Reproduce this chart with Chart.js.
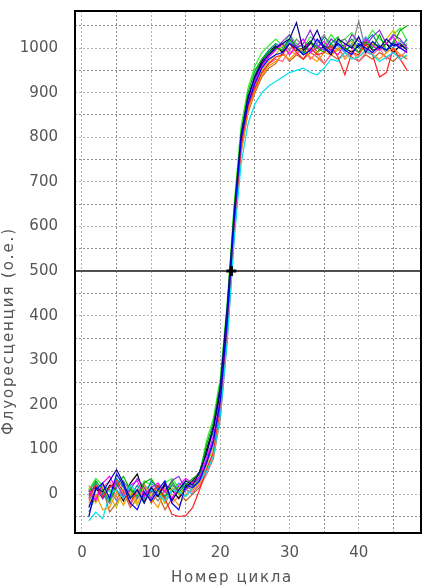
<!DOCTYPE html>
<html><head><meta charset="utf-8">
<script src="https://cdn.jsdelivr.net/npm/chart.js@4.4.1/dist/chart.umd.min.js"></script>
<style>html,body{margin:0;padding:0;background:#fff;}#wrap{width:429px;height:588px;}</style>
</head><body><div id="wrap"><canvas id="c" width="429" height="588"></canvas></div>
<script>
const cycles = [1,2,3,4,5,6,7,8,9,10,11,12,13,14,15,16,17,18,19,20,21,22,23,24,25,26,27,28,29,30,31,32,33,34,35,36,37,38,39,40,41,42,43,44,45,46,47];
const xTitle = 'Номер цикла';
const yTitle = 'Флуоресценция (о.е.)';
const xGrid = [0,5,10,15,20,25,30,35,40,45];
const xLabels = [0,10,20,30,40];
const yGrid = [-50,0,50,100,150,200,250,300,350,400,450,500,550,600,650,700,750,800,850,900,950,1000,1050];
const yLabels = [0,100,200,300,400,500,600,700,800,900,1000];
const threshold = 500;
const ctCycle = 21.6;

const red     = [-10,20,-5,15,30,5,-20,10,-15,5,20,-10,-45,-50,-48,-30,10, 55,95,185,370,600,780,870,910,945,965, 980,985,1010,990,975,1000,985,990,1005,980,940,990,985,1010,985,935,945,1000,975,950];
const green   = [5,30,10,-15,20,40,10,-5,25,35,10,-10,30,5,20,35,45, 110,160,250,420,640,810,900,950,975,990, 1000,995,1020,1000,985,1015,1000,990,1010,1025,995,1005,990,1015,1000,1030,995,1010,1040,1050];
const blue    = [-30,10,25,-10,45,20,-20,-35,5,-15,10,30,-20,-35,20,15,30, 70,120,210,390,615,795,875,920,955,975, 985,990,1010,1000,985,995,1020,1000,990,1010,995,985,1010,1000,990,1005,995,1010,1000,990];
const navy    = [-50,15,5,30,55,25,-10,10,-20,15,-5,25,-15,10,30,20,50, 90,150,240,420,630,805,890,935,965,985, 1000,1010,1020,1057,995,1010,1040,1000,985,1020,1010,1000,1025,990,1015,1000,1020,1005,1010,995];
const cyan    = [-60,-40,-55,0,10,-10,20,5,-20,10,0,-15,10,5,-5,15,30, 50,85,175,345,570,740,830,875,900,915, 925,935,945,950,955,945,940,955,975,970,990,975,980,995,985,970,980,990,975,985];
const magenta = [10,-15,25,40,10,-10,20,30,-5,15,25,5,-10,20,35,25,40, 80,130,215,385,610,785,875,925,960,980, 995,1010,985,1005,1020,990,1000,1015,995,985,1010,1000,990,1020,1005,995,1010,1025,1000,990];
const purple  = [0,20,-10,15,25,-5,10,35,15,-10,20,5,30,40,10,25,35, 70,115,200,380,600,785,880,930,965,990, 1000,1015,1030,1000,1010,1040,1005,995,1020,1010,1000,1030,1015,1005,1025,1040,1010,1030,1020,1000];
const orange  = [-20,0,-35,-30,5,-25,10,-20,5,-10,-30,10,-5,-25,0,10,25, 55,90,180,355,585,770,860,905,940,960, 970,985,975,990,1000,980,970,990,985,1000,975,990,980,995,985,975,990,1000,985,980];
const olive   = [15,-20,10,-5,-30,15,0,-25,20,-5,10,-20,15,0,10,20,30, 65,105,195,375,600,785,870,915,950,970, 985,1005,985,1000,995,1010,990,1000,985,995,1005,1015,990,1000,1010,995,1020,1040,1010,1000];
const black   = [5,15,-10,20,10,-15,25,45,0,10,-5,20,10,-10,15,30,50, 100,150,230,405,620,795,885,935,970,990, 1005,990,1010,995,1000,1015,990,1005,995,1010,1000,990,1005,1015,995,1000,1010,990,1005,1000];
const gray    = [-15,10,5,-20,15,30,5,-10,20,5,-15,10,25,0,15,10,35, 75,120,210,385,610,790,880,930,960,980, 1000,1010,995,1020,1005,990,1010,1030,1000,1015,1020,1000,1060,995,1010,1005,990,1015,1000,1010];
const pink    = [20,-5,15,30,-10,10,-25,5,25,-15,5,15,-20,-5,10,5,20, 45,85,180,360,590,775,865,910,945,965, 975,970,995,985,1000,975,990,965,985,1000,980,995,970,990,985,1000,975,990,980,995];
const teal    = [-5,25,0,-20,35,15,-5,20,-10,30,15,-5,20,10,25,15,40, 95,140,225,400,625,800,890,940,975,995, 1010,1000,1020,1005,990,1015,1000,1025,1010,995,1005,1020,1000,1015,1030,1005,995,1015,1000,1020];
const lime    = [10,35,20,5,25,-5,15,0,30,20,-5,25,35,15,30,25,45, 120,170,260,430,650,825,910,960,990,1005, 1020,1005,1030,1010,1000,1025,1015,1005,1030,1010,1020,1035,1005,1015,1040,1020,1010,1030,1045,1015];
const brown   = [-25,-10,15,-40,-20,5,-30,-10,15,-20,0,-35,-10,5,-15,0,15, 45,80,170,345,575,765,855,900,935,955, 965,990,970,985,975,990,980,965,985,975,990,980,970,985,975,990,980,970,985,975];
const sky     = [-40,-5,20,10,-15,25,15,-10,5,25,10,-20,5,25,10,0,25, 65,110,205,385,605,790,875,925,960,980, 1005,995,1015,1000,990,1010,1005,995,1020,1005,990,1010,1000,1025,1005,995,1010,1000,1015,1005];

const seriesList = [
  [red,'#ff2020'],[green,'#00b000'],[blue,'#0000ff'],[navy,'#000090'],[cyan,'#00e0f0'],
  [magenta,'#ff00ff'],[purple,'#8a2be2'],[orange,'#ff9900'],[olive,'#c8c800'],[black,'#000000'],
  [gray,'#808080'],[pink,'#ff6699'],[teal,'#008b8b'],[lime,'#33ee33'],[brown,'#c06020'],[sky,'#3399ff']
];
const topOrder = {'#0000ff':1,'#000090':2,'#00e0f0':3};

const datasets = seriesList.map(([vals,col]) => ({
  data: vals.map((v,i)=>({x:cycles[i], y:v})),
  borderColor: col, borderWidth: 1.2, pointRadius: 0, tension: 0, fill: false,
  order: topOrder[col] || 10
}));
datasets.push({
  data: [{x:-1,y:threshold},{x:49,y:threshold}],
  borderColor:'#505050', borderWidth:2, pointRadius:0, order: 50
});
datasets.push({
  type:'scatter',
  data: [{x:ctCycle,y:threshold}],
  pointStyle:'cross', pointRadius:5, borderWidth:3, borderColor:'#000', backgroundColor:'#000', order: 0
});

const frame = {
  id:'frame',
  afterDraw(chart){
    const {ctx, chartArea:a} = chart;
    ctx.save();
    ctx.strokeStyle='#000'; ctx.lineWidth=2;
    ctx.strokeRect(a.left, a.top, a.right-a.left, a.bottom-a.top);
    ctx.fillStyle='#555';
    ctx.font='15px "DejaVu Sans"';
    ctx.textAlign='center'; ctx.textBaseline='middle';
    let w = ctx.measureText(xTitle).width;
    ctx.letterSpacing = ((122 - w)/xTitle.length).toFixed(2)+'px';
    ctx.fillText(xTitle, 232, 578);
    ctx.letterSpacing = '0px';
    w = ctx.measureText(yTitle).width;
    ctx.letterSpacing = ((208 - w)/yTitle.length).toFixed(2)+'px';
    ctx.translate(9, 331); ctx.rotate(-Math.PI/2);
    ctx.fillText(yTitle, 0, 0);
    ctx.restore();
  }
};

const noPad = s => { s.paddingTop = 0; s.paddingBottom = 0; s.paddingLeft = 0; s.paddingRight = 0; };

new Chart(document.getElementById('c'), {
  type:'line',
  data:{datasets},
  plugins:[frame],
  options:{
    responsive:false, animation:false,
    layout:{padding:{top:11,right:6,left:0,bottom:0}},
    plugins:{legend:{display:false}, tooltip:{enabled:false}},
    scales:{
      x:{
        type:'linear', min:-1, max:49,
        afterBuildTicks: s => { s.ticks = xGrid.map(v=>({value:v})); },
        afterFit: s => { s.height = 55; noPad(s); },
        grid:{color: c => (c.tick && c.tick.value % 10 === 0) ? '#b4b4b4' : '#8c8c8c', lineWidth:1, drawTicks:false},
        border:{display:false, dash:[2,2]},
        ticks:{autoSkip:false, maxRotation:0, padding:11, color:'#555', font:{family:'DejaVu Sans', size:15},
          callback: v => xLabels.includes(v) ? String(v) : ''}
      },
      y:{
        min:-87, max:1083,
        afterBuildTicks: s => { s.ticks = yGrid.map(v=>({value:v})); },
        afterFit: s => { s.width = 75; noPad(s); },
        grid:{color: c => (c.tick && c.tick.value % 100 === 0) ? '#b4b4b4' : '#8c8c8c', lineWidth:1, drawTicks:false},
        border:{display:false, dash:[2,2]},
        ticks:{autoSkip:false, padding:17, color:'#555', font:{family:'DejaVu Sans', size:15},
          callback: v => yLabels.includes(v) ? String(v) : ''}
      }
    }
  }
});
</script></body></html>
